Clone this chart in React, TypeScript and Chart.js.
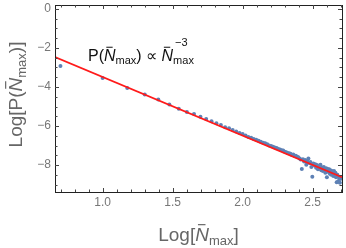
import React, { useEffect, useRef } from "react";
import { Chart, registerables } from "chart.js";

Chart.register(...registerables);

// log10 of N-bar (N = 5, 10, ..., 500)
const logN: number[] = [
  0.699, 1.0, 1.176, 1.301, 1.398, 1.477, 1.544, 1.602, 1.653, 1.699,
  1.74, 1.778, 1.813, 1.845, 1.875, 1.903, 1.929, 1.954, 1.978, 2.0,
  2.021, 2.041, 2.061, 2.079, 2.097, 2.114, 2.13, 2.146, 2.161, 2.176,
  2.19, 2.204, 2.217, 2.23, 2.243, 2.255, 2.267, 2.279, 2.29, 2.301,
  2.312, 2.322, 2.332, 2.342, 2.352, 2.362, 2.371, 2.38, 2.389, 2.398,
  2.407, 2.415, 2.423, 2.431, 2.439, 2.447, 2.455, 2.462, 2.47, 2.477,
  2.484, 2.491, 2.498, 2.505, 2.512, 2.519, 2.525, 2.531, 2.538, 2.544,
  2.55, 2.556, 2.562, 2.568, 2.574, 2.58, 2.585, 2.591, 2.597, 2.602,
  2.607, 2.613, 2.618, 2.623, 2.628, 2.633, 2.638, 2.643, 2.648, 2.653,
  2.658, 2.663, 2.667, 2.672, 2.677, 2.681, 2.686, 2.69, 2.695, 2.699,
];

// log10 of P(N-bar)
const logP: number[] = [
  -2.93, -3.54, -4.05, -4.38, -4.64, -4.9, -5.12, -5.28, -5.39, -5.53,
  -5.64, -5.76, -5.86, -5.95, -6.06, -6.12, -6.21, -6.28, -6.36, -6.41,
  -6.48, -6.56, -6.6, -6.66, -6.7, -6.76, -6.81, -6.86, -6.88, -6.94,
  -7.0, -7.02, -7.06, -7.1, -7.13, -7.18, -7.2, -7.24, -7.26, -7.32,
  -7.34, -7.38, -7.4, -7.42, -7.48, -7.46, -7.54, -7.52, -7.58, -7.6,
  -7.66, -7.72, -8.2, -7.7, -7.82, -7.74, -7.98, -7.8, -7.66, -7.9,
  -7.84, -8.1, -8.6, -7.92, -8.02, -7.96, -8.14, -8.0, -8.22, -8.06,
  -8.18, -7.98, -8.26, -8.12, -8.3, -8.1, -8.24, -8.4, -8.16, -8.62,
  -8.2, -8.36, -8.22, -8.44, -8.26, -8.5, -8.3, -8.38, -8.56, -8.3,
  -8.46, -8.4, -8.62, -8.88, -8.5, -8.86, -8.6, -8.72, -8.9, -8.7,
];

// fitted power law line endpoints
const fitX: number[] = [0.66, 2.71];
const fitY: number[] = [-2.47, -8.62];

const xTickValues: number[] = [1.0, 1.5, 2.0, 2.5];
const xTickLabels: string[] = ["1.0", "1.5", "2.0", "2.5"];
const yTickValues: number[] = [0, -2, -4, -6, -8];
const yTickLabels: string[] = ["0", "\u22122", "\u22124", "\u22126", "\u22128"];

const FONT = "'Liberation Sans', Arial, sans-serif";

type Seg = { t: string; size: number; italic?: boolean; dy?: number; bar?: boolean; sup?: string };

function segWidth(ctx: CanvasRenderingContext2D, s: Seg) {
  ctx.font = `${s.italic ? "italic " : ""}${s.size}px ${FONT}`;
  return ctx.measureText(s.t).width;
}

function drawSegs(ctx: CanvasRenderingContext2D, segs: Seg[], x: number, y: number, align: "left" | "center", color: string) {
  let total = 0;
  for (const s of segs) total += segWidth(ctx, s);
  let cx = align === "center" ? x - total / 2 : x;
  ctx.fillStyle = color;
  ctx.strokeStyle = color;
  ctx.textBaseline = "alphabetic";
  ctx.textAlign = "left";
  for (const s of segs) {
    const w = segWidth(ctx, s);
    ctx.font = `${s.italic ? "italic " : ""}${s.size}px ${FONT}`;
    ctx.fillText(s.t, cx, y + (s.dy || 0));
    if (s.bar) {
      const by = y - s.size * 0.86;
      ctx.lineWidth = Math.max(1, s.size / 16);
      ctx.beginPath();
      ctx.moveTo(cx + w * 0.2, by);
      ctx.lineTo(cx + w * 0.75, by);
      ctx.stroke();
    }
    if (s.sup) {
      ctx.font = `${s.size}px ${FONT}`;
      ctx.fillText(s.sup, cx + 2, y - 15);
    }
    cx += w;
  }
}

const frameTicks = {
  id: "frameTicks",
  afterDatasetsDraw(chart: any) {
    const { ctx, chartArea: a, scales } = chart;
    const xs = scales.x;
    const ys = scales.y;
    ctx.save();
    ctx.strokeStyle = "#222";
    ctx.lineWidth = 1;
    ctx.strokeRect(Math.round(a.left) + 0.5, Math.round(a.top) + 0.5, Math.round(a.right - a.left), Math.round(a.bottom - a.top));
    ctx.strokeStyle = "#444";
    // x ticks
    for (let i = 7; i <= 27; i++) {
      const v = i / 10;
      if (v < xs.min || v > xs.max) continue;
      const major = i % 5 === 0;
      const len = major ? 4 : 2.5;
      const px = Math.round(xs.getPixelForValue(v)) + 0.5;
      ctx.beginPath();
      ctx.moveTo(px, a.bottom);
      ctx.lineTo(px, a.bottom - len);
      ctx.moveTo(px, a.top);
      ctx.lineTo(px, a.top + len);
      ctx.stroke();
    }
    // y ticks
    for (let i = -18; i <= 0; i++) {
      const v = i / 2;
      if (v < ys.min || v > ys.max) continue;
      const major = i % 4 === 0;
      const len = major ? 4 : 2.5;
      const py = Math.round(ys.getPixelForValue(v)) + 0.5;
      ctx.beginPath();
      ctx.moveTo(a.left, py);
      ctx.lineTo(a.left + len, py);
      ctx.moveTo(a.right, py);
      ctx.lineTo(a.right - len, py);
      ctx.stroke();
    }
    // tick labels
    ctx.fillStyle = "#777";
    ctx.font = `12px ${FONT}`;
    ctx.textAlign = "center";
    ctx.textBaseline = "middle";
    xTickValues.forEach((v, i) => {
      ctx.fillText(xTickLabels[i], xs.getPixelForValue(v), a.bottom + 11);
    });
    ctx.textAlign = "right";
    yTickValues.forEach((v, i) => {
      ctx.fillText(yTickLabels[i], a.left - 4, ys.getPixelForValue(v));
    });
    // axis titles
    const titleColor = "#666";
    drawSegs(ctx, [
      { t: "Log[", size: 19 },
      { t: "N", size: 19, italic: true, bar: true },
      { t: "max", size: 13, dy: 4 },
      { t: "]", size: 19 },
    ], (a.left + a.right) / 2, 241, "center", titleColor);
    ctx.save();
    ctx.translate(22, (a.top + a.bottom) / 2 - 4);
    ctx.rotate(-Math.PI / 2);
    drawSegs(ctx, [
      { t: "Log[P(", size: 19 },
      { t: "N", size: 19, italic: true, bar: true },
      { t: "max", size: 13, dy: 4 },
      { t: ")]", size: 19 },
    ], 0, 0, "center", titleColor);
    ctx.restore();
    // annotation
    drawSegs(ctx, [
      { t: "P(", size: 16 },
      { t: "N", size: 16, italic: true, bar: true },
      { t: "max", size: 11, dy: 3 },
      { t: ") \u221D ", size: 16 },
      { t: "N", size: 16, italic: true, bar: true },
      { t: "max", size: 11, dy: 3, sup: "\u22123" },
    ], 88, 61, "left", "#111");
    ctx.restore();
  },
};

export default function App() {
  const ref = useRef<HTMLCanvasElement>(null);
  useEffect(() => {
    if (!ref.current) return;
    const chart = new Chart(ref.current, {
      type: "scatter",
      data: {
        datasets: [
          {
            type: "line",
            data: fitX.map((x, i) => ({ x, y: fitY[i] })),
            borderColor: "#ff1a1a",
            borderWidth: 1.8,
            pointRadius: 0,
            fill: false,
            order: 0,
          } as any,
          {
            type: "scatter",
            data: logN.map((x, i) => ({ x, y: logP[i] })),
            backgroundColor: "#5E81B5",
            borderWidth: 0,
            pointRadius: 2,
            order: 1,
          },
        ],
      },
      options: {
        responsive: false,
        animation: false,
        devicePixelRatio: 1,
        layout: { padding: { left: 55, top: 5, right: 4, bottom: 56 } },
        plugins: { legend: { display: false }, tooltip: { enabled: false } },
        scales: {
          x: { type: "linear", min: 0.66, max: 2.71, display: false },
          y: { type: "linear", min: -9.38, max: 0.2, display: false },
        },
      },
      plugins: [frameTicks],
    });
    return () => chart.destroy();
  }, []);
  return (
    <div style={{ position: "absolute", left: 0, top: 0, width: 346, height: 248, background: "#fff" }}>
      <canvas ref={ref} width={346} height={248} style={{ display: "block" }} />
    </div>
  );
}
